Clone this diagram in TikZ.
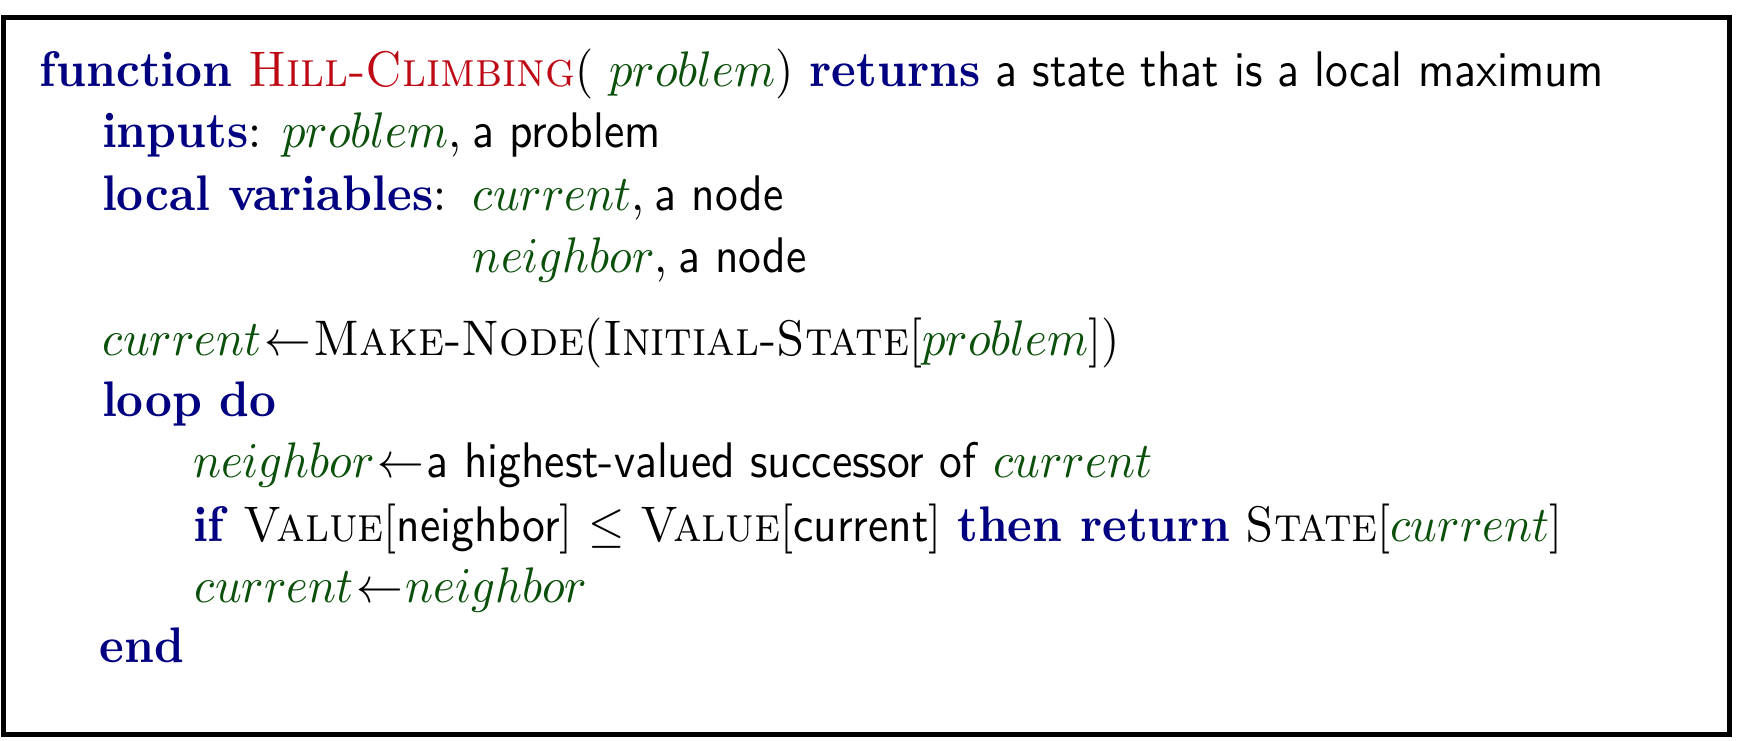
\documentclass[tikz,border=0pt]{standalone}
\usepackage{graphicx}
\definecolor{kwblue}{RGB}{0,0,128}
\definecolor{fnred}{RGB}{190,10,20}
\definecolor{vargreen}{RGB}{10,80,10}
\newcommand\kw[1]{\textcolor{kwblue}{\textbf{#1}}}
\newcommand\fn[1]{\textcolor{fnred}{\textsc{#1}}}
\newcommand\va[1]{\textcolor{vargreen}{$#1$}}
\newcommand\vm[1]{\textcolor{vargreen}{#1}}
\newcommand\pc[1]{\textsc{#1}}
\newcommand\sfx[1]{\scalebox{0.975}[1]{\textsf{#1}}}
\newcommand\gt{\mskip1mu{\leftarrow}\mskip1mu}
\newcommand\cm{,\hspace{2.2pt}}
\newcommand\hsc{0.935}
\newcommand\cl[1]{\scalebox{\hsc}[1]{#1}}
\tikzset{codeline/.style={anchor=base west, inner sep=0pt, outer sep=0pt, font=\fontsize{10}{12}\selectfont},
  frame/.style={draw=black, line width=1pt}}
\begin{document}
\begin{tikzpicture}[x=0.2pt,y=-0.2pt]
\useasboundingbox (0,0) rectangle (1739,741);
\draw[frame] (3.5,17.5) rectangle (1730,734.5);
\node[codeline] (l1) at (40,87) {\cl{\kw{function} \fn{Hill-Climbing}( \va{problem}) \kw{returns} \sfx{a state that is a local maximum}}};
\node[codeline] (l2) at (102,148) {\cl{\kw{inputs}: \va{problem}\cm\sfx{a problem}}};
\node[codeline] (l3) at (102,211) {\cl{\kw{local variables}:}};
\node[codeline] (l3b) at (473,211) {\cl{\va{current}\cm\sfx{a node}}};
\node[codeline] (l4) at (473,273) {\cl{\va{neighbor}\cm\sfx{a node}}};
\node[codeline] (l5) at (103,356) {\cl{$\vm{current}\gt\mbox{\pc{Make-Node}(\pc{Initial-State}[\va{problem}])}$}};
\node[codeline] (l6) at (102,417) {\cl{\kw{loop do}}};
\node[codeline] (l7) at (193,478) {\cl{$\vm{neighbor}\gt\mbox{\sfx{a highest-valued successor of} \va{current}}$}};
\node[codeline] (l8) at (193,542) {\cl{\kw{if} \pc{Value}[\sfx{neighbor}] $\leq$ \pc{Value}[\sfx{current}] \kw{then return} \pc{State}[\va{current}]}};
\node[codeline] (l9) at (195,603) {\cl{$\vm{current}\gt\vm{neighbor}$}};
\node[codeline] (l10) at (100,663) {\cl{\kw{end}}};
\end{tikzpicture}
\end{document}
